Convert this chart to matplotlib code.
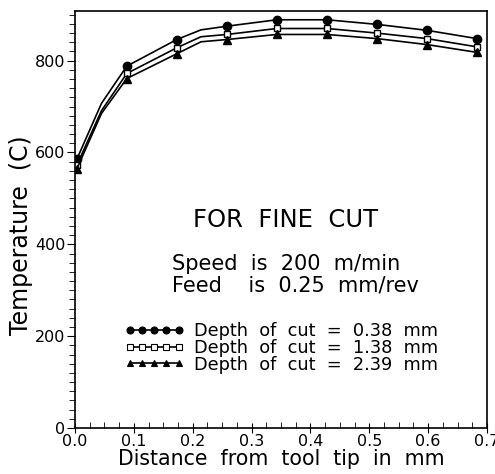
import matplotlib.pyplot as plt
from matplotlib.lines import Line2D
from matplotlib.ticker import MultipleLocator

# marker positions (mm) and temperatures (C)
dist = [0.003, 0.088, 0.173, 0.258, 0.343, 0.428, 0.513, 0.598, 0.683]
t_038 = [585, 788, 846, 875, 889, 889, 879, 866, 848]
t_138 = [572, 772, 828, 857, 870, 870, 860, 848, 830]
t_239 = [564, 761, 815, 846, 857, 857, 848, 835, 818]

# extra bend points of the drawn curves (no markers)
bend_dist = [0.045, 0.214]
bend_038 = [707, 867]
bend_138 = [691, 852]
bend_239 = [685, 841]

labels = ["Depth  of  cut  =  0.38  mm",
          "Depth  of  cut  =  1.38  mm",
          "Depth  of  cut  =  2.39  mm"]


def merge(xs, ys, bx, by):
    pts = sorted(list(zip(xs, ys)) + list(zip(bx, by)))
    return [p[0] for p in pts], [p[1] for p in pts]


fig = plt.figure(figsize=(4.95, 4.74), dpi=100)
ax = fig.add_axes([0.1515, 0.097, 0.8323, 0.8797])

series = [(t_038, bend_038, dict(marker='o', ms=6, mfc='black')),
          (t_138, bend_138, dict(marker='s', ms=5, mfc='white')),
          (t_239, bend_239, dict(marker='^', ms=6, mfc='black'))]
handles = []
for ys, by, mk in series:
    lx, ly = merge(dist, ys, bend_dist, by)
    ax.plot(lx, ly, color='black', lw=1.2)
    ax.plot(dist, ys, linestyle='none', color='black', mec='black', mew=1, **mk)
    handles.append(Line2D([], [], color='black', lw=1.2, mec='black', mew=0.8,
                          **dict(mk, ms=mk['ms'] - 1)))

ax.set_xlim(0, 0.7)
ax.set_ylim(0, 908)
ax.xaxis.set_minor_locator(MultipleLocator(0.025))
ax.yaxis.set_major_locator(MultipleLocator(200))
ax.yaxis.set_minor_locator(MultipleLocator(20))
ax.set_xticks([0, 0.1, 0.2, 0.3, 0.4, 0.5, 0.6, 0.7])
ax.set_xticklabels(["0.0", "0.1", "0.2", "0.3", "0.4", "0.5", "0.6", "0.7"])
ax.tick_params(axis='x', which='major', direction='inout', length=7, labelsize=11.5, pad=1)
ax.tick_params(axis='x', which='minor', direction='in', length=4)
ax.tick_params(axis='y', which='major', direction='out', length=6, labelsize=11.5, pad=1)
ax.tick_params(axis='y', which='minor', direction='out', length=4)
for s in ax.spines.values():
    s.set_linewidth(1.2)

ax.set_xlabel("Distance  from  tool  tip  in  mm", fontsize=14.8, labelpad=0)
ax.set_ylabel("Temperature  (C)", fontsize=17, labelpad=2)
ax.yaxis.set_label_coords(-0.102, 0.463)

ax.text(0.3585, 453, "FOR  FINE  CUT", fontsize=17.5, ha='center', va='center')
ax.text(0.165, 357, "Speed  is  200  m/min", fontsize=15, ha='left', va='center')
ax.text(0.165, 311, "Feed    is  0.25  mm/rev", fontsize=15, ha='left', va='center')

ax.legend(handles, labels, numpoints=5, frameon=False, handlelength=3.35,
          handletextpad=0.55, fontsize=12.8, labelspacing=-0.073, borderpad=0,
          loc='center left', bbox_to_anchor=(0.120, 0.192), borderaxespad=0)

fig.savefig("out.png", dpi=100)
